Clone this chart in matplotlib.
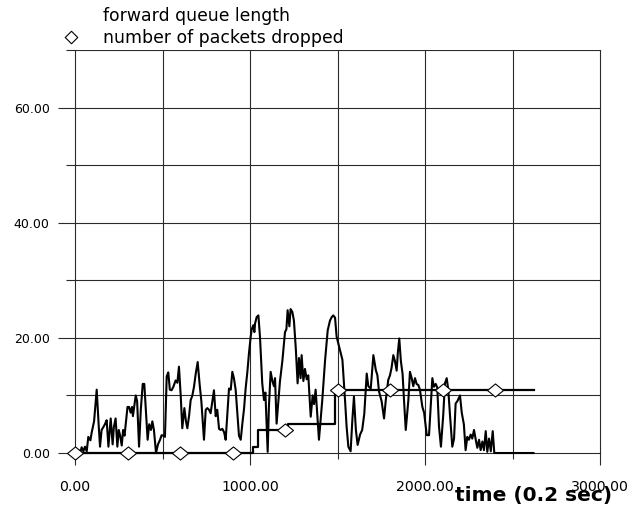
import matplotlib
matplotlib.use("Agg")
import matplotlib.pyplot as plt
from matplotlib.lines import Line2D
from matplotlib.path import Path
import numpy as np

plt.rcParams['font.family'] = ['DejaVu Sans']

# forward queue length (time in 0.2 s units)
queue_t = [0, 20, 30, 38, 48, 57, 67, 76, 88, 95, 109, 124, 135, 143, 152, 162, 171, 181, 191, 204,
           215, 222, 232, 242, 250, 258, 267, 275, 283, 290, 300, 309, 318, 326, 331, 347, 355, 366, 376, 387,
           396, 404, 415, 424, 434, 442, 451, 463, 474, 486, 495, 505, 514, 524, 533, 542, 552, 562, 575, 585,
           594, 604, 613, 625, 634, 642, 652, 661, 670, 680, 690, 701, 712, 722, 730, 737, 747, 756, 766, 775,
           785, 794, 804, 813, 823, 832, 842, 852, 861, 870, 880, 890, 899, 908, 918, 927, 937, 947, 956, 966,
           975, 985, 994, 1004, 1010, 1019, 1025, 1029, 1038, 1048, 1057, 1070, 1080, 1088, 1101, 1108, 1118, 1128, 1137, 1143,
           1152, 1162, 1171, 1185, 1200, 1208, 1215, 1225, 1232, 1242, 1251, 1262, 1272, 1280, 1289, 1295, 1305, 1314, 1324, 1333,
           1347, 1358, 1366, 1375, 1394, 1413, 1429, 1444, 1457, 1467, 1476, 1486, 1495, 1514, 1528, 1543, 1552, 1562, 1575, 1585,
           1594, 1605, 1615, 1629, 1641, 1653, 1667, 1676, 1690, 1705, 1719, 1728, 1737, 1752, 1766, 1776, 1790, 1800, 1809, 1819,
           1828, 1838, 1845, 1853, 1862, 1872, 1880, 1890, 1905, 1914, 1924, 1933, 1943, 1952, 1962, 1971, 1985, 1995, 2010, 2023,
           2042, 2051, 2061, 2070, 2080, 2091, 2104, 2114, 2124, 2133, 2143, 2156, 2166, 2175, 2185, 2200, 2210, 2222, 2232, 2242,
           2251, 2261, 2270, 2280, 2290, 2299, 2309, 2318, 2328, 2337, 2347, 2356, 2366, 2376, 2387, 2396, 2620]
queue_v = [0, 0.5, 0, 1, 0.3, 1.1, 0.3, 2.8, 2.2, 3.5, 5.5, 11, 5, 1.1, 4, 4.5, 5, 5.7, 1.1, 6,
           1.5, 4.5, 6, 1.1, 4, 3, 1.3, 4, 3, 5, 8, 8, 7, 8, 6.4, 10, 9, 1.1, 7.5, 12,
           12, 8, 2.3, 5, 4, 5.5, 4, 0, 1.5, 2.3, 3.1, 3, 2.8, 13.3, 14, 11, 10.9, 11.5, 12.6, 12.2,
           15, 10, 4.3, 7.8, 5.5, 4.3, 6.5, 9.2, 9.9, 11.5, 13.8, 15.8, 12, 9, 5.5, 2.3, 7.5, 7.8, 7.5, 6.9,
           9, 10.9, 6.4, 7.5, 4.2, 4, 4.2, 3.6, 2.3, 6.5, 11.2, 11, 14.1, 13, 11, 7.3, 3, 2.3, 5, 7.7,
           11.2, 14.1, 17.3, 20.2, 21.5, 22.2, 21, 22.5, 23.6, 23.9, 20.2, 12.1, 9.2, 10.5, 0.2, 8, 14.1, 12.5, 11.6, 13,
           5.1, 9, 12.4, 16, 21, 21.5, 24.8, 22, 25, 24.5, 23, 18, 12.1, 16.5, 13, 17, 12.5, 14.6, 12.8, 13.5,
           6.3, 10, 8.5, 11, 2.3, 9.2, 16.1, 21.3, 23, 23.6, 23.9, 23.5, 20.2, 17.9, 16.2, 9.2, 4.6, 1.1, 0.3, 5.8,
           9.8, 4, 1.4, 3.2, 4, 6.8, 13.8, 11.6, 11.2, 17, 14.4, 13.5, 10.7, 9, 6, 9.2, 12.7, 13.5, 14.8, 17,
           16, 14.3, 17.5, 19.9, 16, 13.7, 9.2, 4, 9.2, 14.1, 13, 11.6, 13, 12, 11.8, 11, 8, 7, 3.1, 3.1,
           13, 11.5, 12, 11.4, 4.6, 1.1, 6.5, 12.1, 13, 11, 6.5, 1.1, 2.5, 8.6, 9, 10, 7, 5, 0.5, 2.8,
           2.3, 3.2, 2.5, 4, 2.3, 0.9, 2.3, 0.5, 2, 0.5, 3.8, 0.2, 2.5, 0.3, 3.8, 0, 0]

# number of packets dropped (cumulative, step)
drop_t = [0, 1019, 1044, 1219, 1486, 2620]
drop_v = [0, 1, 4, 5, 11, 11]
# sampled marker points
mark_t = [0, 300, 600, 900, 1200, 1500, 1800, 2100, 2400]
mark_v = [0, 0, 0, 0, 4, 11, 11, 11, 11]

x_major = [0, 1000, 2000, 3000]
x_minor = [500, 1500, 2500]
y_major = [0, 20, 40, 60]
y_minor = [10, 30, 50, 70]

W, H = 634, 508
fig = plt.figure(figsize=(W / 100, H / 100), dpi=100)
ax = fig.add_axes([75 / W, 1 - 453 / H, 525 / W, 403 / H])
ax.set_xlim(0, 3000)
ax.set_ylim(0, 70)
for s in ax.spines.values():
    s.set_visible(False)

ax.set_xticks(x_major)
ax.set_xticks(x_minor, minor=True)
ax.set_yticks(y_major)
ax.set_yticks(y_minor, minor=True)
ax.set_xticklabels([f"{v:.2f}" for v in x_major])
ax.set_yticklabels([f"{v:.2f}" for v in y_major])

gc = '#2a2a2a'
ax.tick_params(axis='x', which='major', length=12 * 0.72, width=0.8, color=gc, pad=11, labelsize=10.2)
ax.tick_params(axis='x', which='minor', length=6 * 0.72, width=0.8, color=gc)
ax.tick_params(axis='y', which='major', length=17 * 0.72, width=0.8, color=gc, pad=6, labelsize=9)
ax.tick_params(axis='y', which='minor', length=9 * 0.72, width=0.8, color=gc)
ax.grid(which='both', color=gc, linewidth=0.8)
for gl in ax.get_xgridlines() + ax.get_ygridlines():
    gl.set_clip_on(False)
ax.set_axisbelow(True)

diamond = Path([(-1, 0), (0, 0.82), (1, 0), (0, -0.82), (-1, 0)],
               [Path.MOVETO, Path.LINETO, Path.LINETO, Path.LINETO, Path.CLOSEPOLY])
diamond_sq = Path([(-1, 0), (0, 1), (1, 0), (0, -1), (-1, 0)],
                  [Path.MOVETO, Path.LINETO, Path.LINETO, Path.LINETO, Path.CLOSEPOLY])

ax.plot(drop_t, drop_v, drawstyle='steps-post', color='black', lw=1.6, zorder=3, clip_on=False)
ax.plot(queue_t, queue_v, color='black', lw=1.5, zorder=4, clip_on=False)
ax.plot(mark_t, mark_v, linestyle='none', marker=diamond, markersize=11.5,
        markerfacecolor='white', markeredgecolor='black', markeredgewidth=0.8, zorder=5, clip_on=False)

fig.text(103 / W, 1 - 16 / H, 'forward queue length', va='center', ha='left', size=12.4)
fig.text(103 / W, 1 - 38 / H, 'number of packets dropped', va='center', ha='left', size=12.4)
fig.add_artist(Line2D([71 / W], [1 - 37 / H], transform=fig.transFigure, linestyle='none',
                      marker=diamond_sq, markersize=9, markerfacecolor='white',
                      markeredgecolor='black', markeredgewidth=0.8))
fig.text(612 / W, 1 - 495 / H, 'time (0.2 sec)', va='center', ha='right', size=14.5, weight='bold')

fig.savefig('out.png', dpi=100)
